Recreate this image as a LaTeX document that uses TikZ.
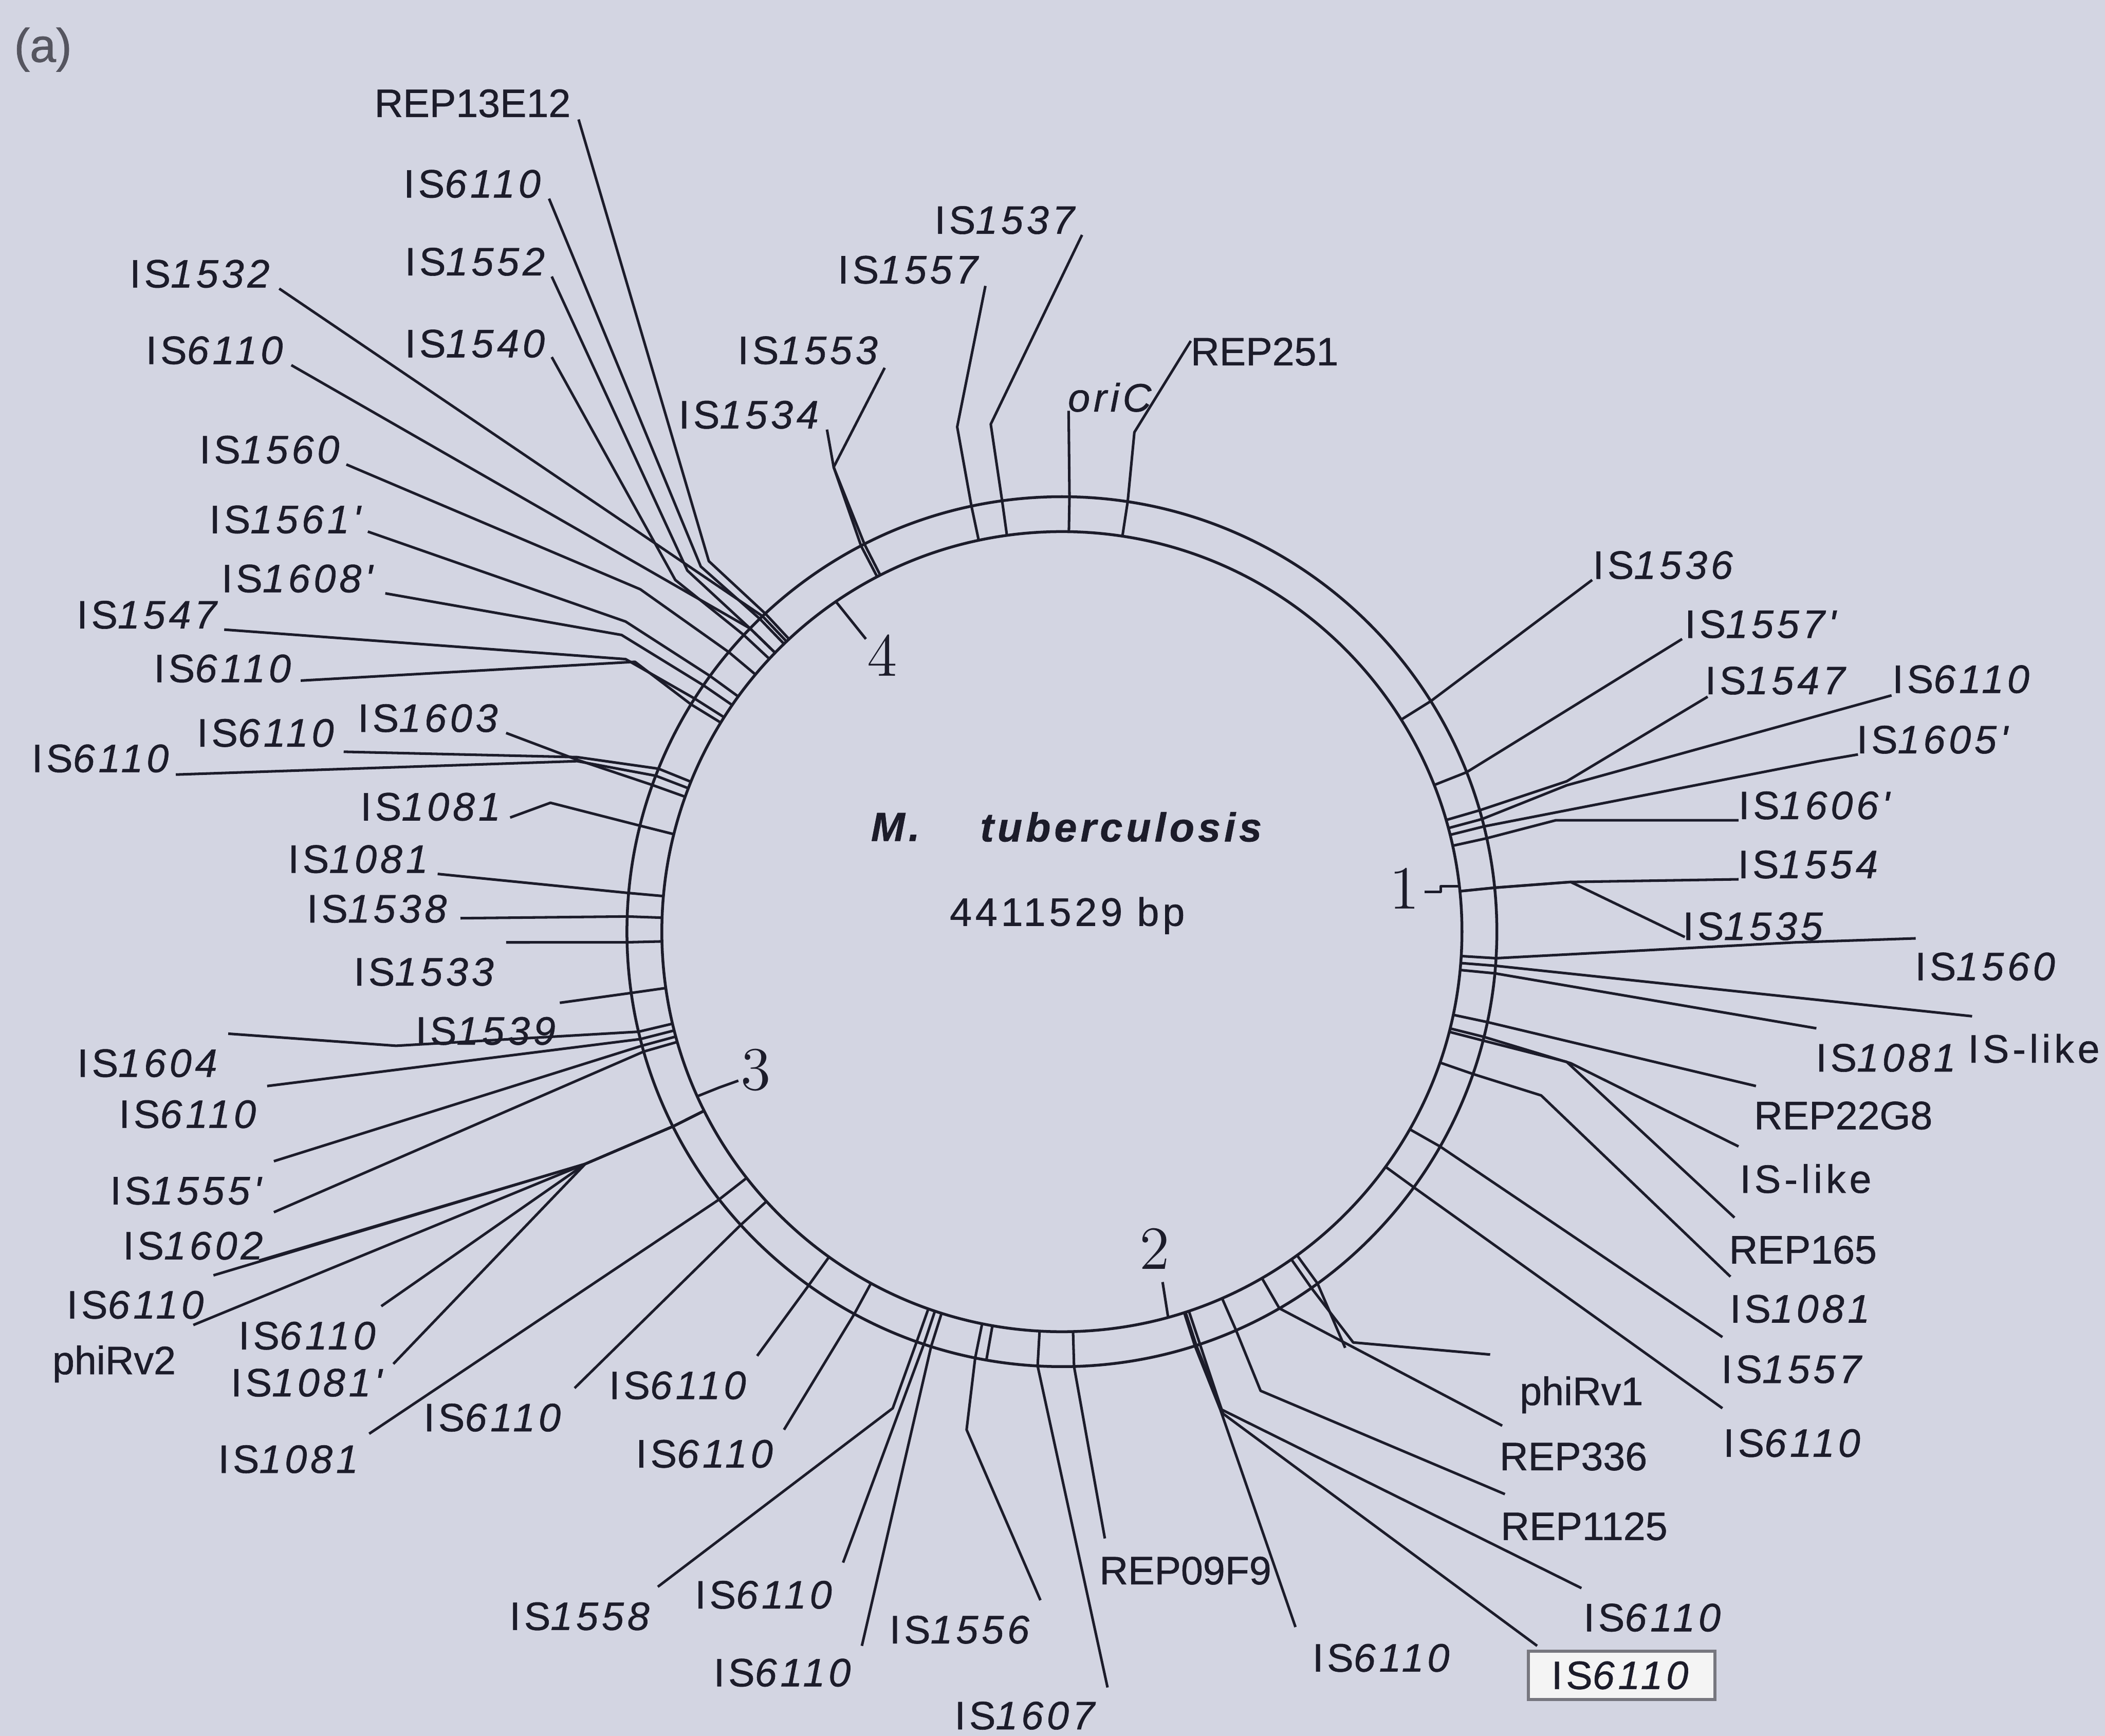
\documentclass[tikz,border=0pt]{standalone}
\usepackage{fontspec}
\newfontfamily\isfont[LetterSpace=9,FakeBold=0.8]{Liberation Sans}
\newfontfamily\repfont[FakeBold=0.8]{Liberation Sans}
\definecolor{paper}{RGB}{211,213,226}
\definecolor{ink}{RGB}{28,28,42}
\newcommand{\isn}[1]{IS\textit{#1}}
\tikzset{
  ringline/.style={draw=ink, line width=0.6pt},
  lead/.style={draw=ink, line width=0.55pt, line join=round},
  islbl/.style={font=\isfont\fontsize{8.4}{10}\selectfont, text=ink, inner sep=0pt},
  replbl/.style={font=\repfont\fontsize{8.4}{10}\selectfont, text=ink, inner sep=0pt},
  boxlbl/.style={islbl, draw=ink!60, line width=0.7pt, fill=ink!5, minimum width=13.9mm, minimum height=3.6mm},
  locnum/.style={font=\fontsize{13}{13}\selectfont, text=ink, inner sep=0pt},
}

\begin{document}
\begin{tikzpicture}[x=0.1mm, y=-0.1mm]

    \fill[paper] (0,0) rectangle (1568,1293);
    \useasboundingbox (0,0) rectangle (1568,1293);

    %genome ring
    \coordinate (c) at (791,694);
    \draw[ringline] (c) circle[radius=324];
    \draw[ringline] (c) circle[radius=298];

    \node[islbl, font=\isfont\bfseries\itshape\fontsize{8.6}{10}\selectfont] (sp1) at (667,616) {M.};
    \node[islbl, font=\isfont\bfseries\itshape\fontsize{8.6}{10}\selectfont] (sp2) at (835,616) {tuberculosis};
    \node[islbl] (gsize) at (795,682) {4411529 bp};
    \node[replbl, text=ink!75, font=\repfont\fontsize{10}{10}\selectfont] (panel) at (32,37) {(a)};

    %angle / bend / end / label centre / style / text
    \foreach \a/\bx/\by/\ex/\ey/\lx/\ly/\st/\t [count=\i] in {
        89/796/306/796/306/828/296/islbl/\textit{oriC},
        81.3/845/322/887/254/942/262/replbl/REP251,
        97.9/738/316/806/175/750/164/islbl/\isn{1537},
        102/713/318/734/213/678/201/islbl/\isn{1557},
        117/621/348/659/274/603/261/islbl/\isn{1553},
        117.5/621/348/616/320/559/309/islbl/\isn{1534},
        133/528/418/431/89/352/77/replbl/REP13E12,
        134/522/422/409/148/353/137/islbl/\isn{6110},
        135.8/512/425/411/206/355/195/islbl/\isn{1552},
        137/503/432/411/266/355/256/islbl/\isn{1540},
        133.5/208/215/208/215/150/204/islbl/\isn{1532},
        135.8/217/272/217/272/161/261/islbl/\isn{6110},
        140/477/439/258/346/202/335/islbl/\isn{1560},
        144/466/463/274/396/214/387/islbl/\isn{1561'},
        145.5/463/473/287/442/223/431/islbl/\isn{1608'},
        147.6/466/491/167/469/111/458/islbl/\isn{1547},
        148.5/473/493/224/507/167/498/islbl/\isn{6110},
        158/430/564/256/560/199/546/islbl/\isn{6110},
        159/430/567/131/577/76/565/islbl/\isn{6110},
        160.3/430/566/377/546/320/535/islbl/\isn{1603},
        165.9/410/598/380/609/322/601/islbl/\isn{1081},
        174.9/326/651/326/651/268/640/islbl/\isn{1081},
        178/343/684/343/684/282/677/islbl/\isn{1538},
        181.4/377/702/377/702/317/724/islbl/\isn{1533},
        188.1/417/747/417/747/363/768/islbl/\isn{1539},
        193.3/295/779/170/770/111/792/islbl/\isn{1604},
        194.3/199/809/199/809/141/830/islbl/\isn{6110},
        195.2/204/865/204/865/140/887/islbl/\isn{1555'},
        196/204/903/204/903/145/928/islbl/\isn{1602},
        206.6/436/867/159/950/102/972/islbl/\isn{6110},
        206.6/436/867/144/987/85/1016/replbl/phiRv2,
        206.6/436/867/284/973/230/995/islbl/\isn{6110},
        206.6/436/867/293/1016/230/1030/islbl/\isn{1081'},
        218/275/1068/275/1068/216/1087/islbl/\isn{1081},
        222.4/428/1034/428/1034/368/1056/islbl/\isn{6110},
        234.4/564/1010/564/1010/506/1032/islbl/\isn{6110},
        241.5/584/1065/584/1065/526/1083/islbl/\isn{6110},
        250.5/665/1049/490/1182/433/1204/islbl/\isn{1558},
        251.5/628/1164/628/1164/570/1188/islbl/\isn{6110},
        252.5/642/1226/642/1226/584/1246/islbl/\isn{6110},
        258.5/720/1065/775/1192/716/1214/islbl/\isn{1556},
        266.8/825/1257/825/1257/765/1278/islbl/\isn{1607},
        271.6/823/1146/823/1146/883/1170/replbl/REP09F9,
        287.8/909/1050/965/1212/1030/1235/islbl/\isn{6110},
        288/910/1050/1178/1183/1232/1205/islbl/\isn{6110},
        288.5/911/1053/1145/1226/1208/1248/boxlbl/\isn{6110},
        293.6/939/1036/1121/1113/1180/1137/replbl/REP1125,
        300/1119/1062/1119/1062/1172/1085/replbl/REP336,
        305/1008/1000/1110/1009/1178/1039/replbl/phiRv1,
        324/1283/1049/1283/1049/1336/1075/islbl/\isn{6110},
        330.4/1283/996/1283/996/1336/1020/islbl/\isn{1557},
        340.9/1148/816/1289/951/1342/975/islbl/\isn{1081},
        345.5/1167/791/1292/907/1343/931/replbl/REP165,
        346/1170/792/1295/854/1345/878/islbl/IS-like,
        348/1308/809/1308/809/1373/831/replbl/REP22G8,
        354.5/1353/766/1353/766/1406/788/islbl/\isn{1081},
        355.5/1469/757/1469/757/1515/781/islbl/IS-like,
        356.5/1337/702/1427/699/1480/720/islbl/\isn{1560},
        5.8/1170/657/1295/655/1348/644/islbl/\isn{1554},
        5.8/1170/657/1255/698/1307/690/islbl/\isn{1535},
        12.4/1159/611/1295/611/1353/600/islbl/\isn{1606'},
        14/1355/567/1384/562/1441/551/islbl/\isn{1605'},
        15/1167/585/1409/518/1462/506/islbl/\isn{6110},
        16.2/1167/582/1272/519/1324/507/islbl/\isn{1547},
        21.5/1253/476/1253/476/1313/465/islbl/\isn{1557'},
        32/1186/432/1186/432/1240/421/islbl/\isn{1536}}{
        \path (c) ++({-\a}:298) coordinate (in\i);
        \path (c) ++({-\a}:324) coordinate (out\i);
        \coordinate (bd\i) at (\bx,\by);
        \coordinate (en\i) at (\ex,\ey);
        \node[\st] (lb\i) at (\lx,\ly) {\t};
        \draw[lead] (in\i) -- (out\i) -- (bd\i) -- (en\i);
    }

    %extra strokes
    \path (c) ++(-260:298) coordinate (xt1) ++(-260:26) coordinate (xt2);
    \draw[lead] (xt1) -- (xt2);
    \path (c) ++(-306:298) coordinate (pv1) ++(-306:26) coordinate (pv2);
    \coordinate (pv3) at (1002,1004);
    \draw[lead] (pv1) -- (pv2) -- (pv3);
    \coordinate (p3) at (436,867);
    \coordinate (p3x) at (193,939);
    \draw[lead] (p3) -- (p3x);

    %numbered loci
    \path (c) ++(-6.5:298) coordinate (m1);
    \path (c) ++(-285.4:298) coordinate (m2);
    \path (c) ++(-204.3:298) coordinate (m3);
    \path (c) ++(-124.4:298) coordinate (m4);
    \node[locnum] (n1) at (1046,662) {1};
    \node[locnum] (n2) at (860,930) {2};
    \node[locnum] (n3) at (563,797) {3};
    \node[locnum] (n4) at (657,488) {4};
    \draw[lead] (m1) -- ++(-14,0) -- ++(0,4) -- ++(-12,0);
    \draw[lead] (m2) -- (866,955);
    \draw[lead] (m3) -- (536,810) -- (550,805);
    \draw[lead] (m4) -- (645,476);

\end{tikzpicture}
\end{document}
